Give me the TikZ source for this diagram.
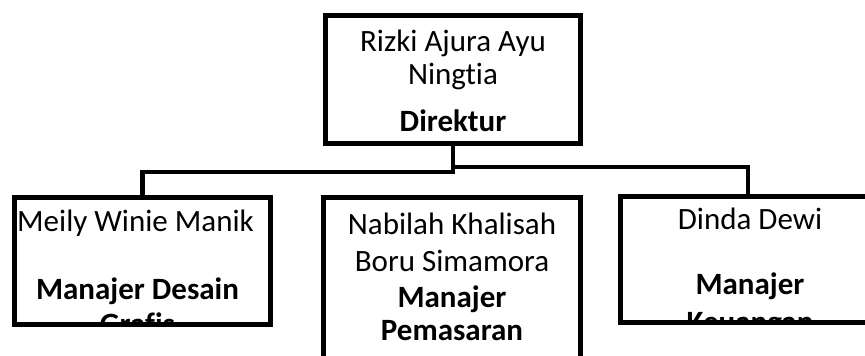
\documentclass[tikz,border=0pt]{standalone}
\usepackage{fontspec}
\setmainfont{Carlito}[Ligatures=NoCommon]
\usetikzlibrary{calc}

\begin{document}
\begin{tikzpicture}[x=0.5pt,y=-0.5pt,line width=2.4pt,
    box/.style={rectangle,draw,line width=2.4pt,inner sep=0pt,outer sep=0pt,
      minimum width=128pt,minimum height=63.5pt},
    name text/.style={anchor=base,inner sep=0pt,font=\fontsize{15.5}{18}\selectfont},
    role text/.style={name text,font=\fontsize{15.5}{18}\selectfont\bfseries}]
  \clip (0,0) rectangle (865,356);

  % Boxes
  \node[box,minimum width=127.5pt,minimum height=64pt] (D) at (453,79.5) {};
  \node[box] (MD) at (142.5,261) {};
  \node[box,minimum width=128.5pt,minimum height=111.25pt] (MP) at (452,308.75) {};
  \node[box,minimum width=127.5pt,minimum height=63pt] (MK) at (748,259.5) {};

  % Texts
  \node[name text] (D1) at ($(D.north)+(0,36.5)$) {Rizki Ajura Ayu};
  \node[name text] (D2) at ($(D.north)+(0,69.5)$) {Ningtia};
  \node[role text] (D3) at ($(D.north)+(0,116.5)$) {Direktur};

  \begin{scope}
    \clip (MD.north west) rectangle (MD.south east);
    \node[name text] (MD1) at ($(MD.north)+(-7,34.5)$) {Meily Winie Manik};
    \node[role text] (MD2) at ($(MD.north)+(-5,102.5)$) {Manajer Desain};
    \node[role text] (MD3) at ($(MD.north)+(-5,137)$) {Grafis};
  \end{scope}

  \node[name text] (MP1) at ($(MP.north)+(0,37.5)$) {Nabilah Khalisah};
  \node[name text] (MP2) at ($(MP.north)+(0,74.5)$) {Boru Simamora};
  \node[role text] (MP3) at ($(MP.north)+(0,110.5)$) {Manajer};
  \node[role text] (MP4) at ($(MP.north)+(0,143.5)$) {Pemasaran};

  \begin{scope}
    \clip (MK.north west) rectangle (MK.south east);
    \node[name text] (MK1) at ($(MK.north)+(2,33.5)$) {Dinda Dewi};
    \node[role text] (MK2) at ($(MK.north)+(2,98.5)$) {Manajer};
    \node[role text] (MK3) at ($(MK.north)+(2,136.5)$) {Keuangan};
  \end{scope}

  % Edges
  \draw (D.south) -- ++(0,28.5) -| (MD.north);
  \draw (D.south) -- ++(0,23.5) -| (MK.north);
\end{tikzpicture}
\end{document}
